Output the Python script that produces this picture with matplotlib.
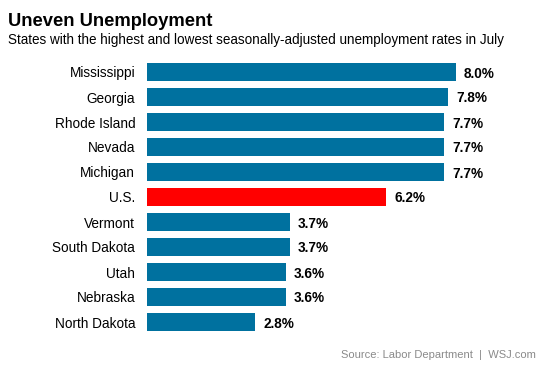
import matplotlib.pyplot as plt

plt.rcParams['font.family'] = ['Liberation Sans', 'DejaVu Sans']

states = ['Mississippi', 'Georgia', 'Rhode Island', 'Nevada', 'Michigan', 'U.S.',
          'Vermont', 'South Dakota', 'Utah', 'Nebraska', 'North Dakota']
rates = [8.0, 7.8, 7.7, 7.7, 7.7, 6.2, 3.7, 3.7, 3.6, 3.6, 2.8]

blue = '#00719f'
red = '#ff0000'
colors = [red if s == 'U.S.' else blue for s in states]

fig = plt.figure(figsize=(5.53, 3.69), dpi=100)
ax = fig.add_axes([147 / 553, 1 - 334.5 / 369, 386 / 553, 275 / 369])

y = list(range(len(states)))
ax.barh(y, rates, height=0.7, color=colors)
ax.set_xlim(0, 10)
ax.set_ylim(len(states) - 0.5, -0.5)
ax.set_yticks(y)
ax.set_yticklabels(states, fontsize=9.8, va='center_baseline')
ax.tick_params(axis='y', length=0, pad=8.5)
ax.set_xticks([])
for sp in ax.spines.values():
    sp.set_visible(False)

for yi, r in zip(y, rates):
    ax.text(r + 0.21, yi, f'{r:.1f}%', va='center_baseline', ha='left',
            fontsize=9.8, fontweight='bold')

fig.text(8 / 553, 1 - 26 / 369, 'Uneven Unemployment', fontsize=13.2,
         fontweight='bold', ha='left', va='baseline')
fig.text(8 / 553, 1 - 44 / 369,
         'States with the highest and lowest seasonally-adjusted unemployment rates in July',
         fontsize=9.74, ha='left', va='baseline')
fig.text(536 / 553, 1 - 358 / 369, 'Source: Labor Department  |  WSJ.com',
         fontsize=8.0, color='#8a8a8a', ha='right', va='baseline')

fig.savefig('out.png', dpi=100)
